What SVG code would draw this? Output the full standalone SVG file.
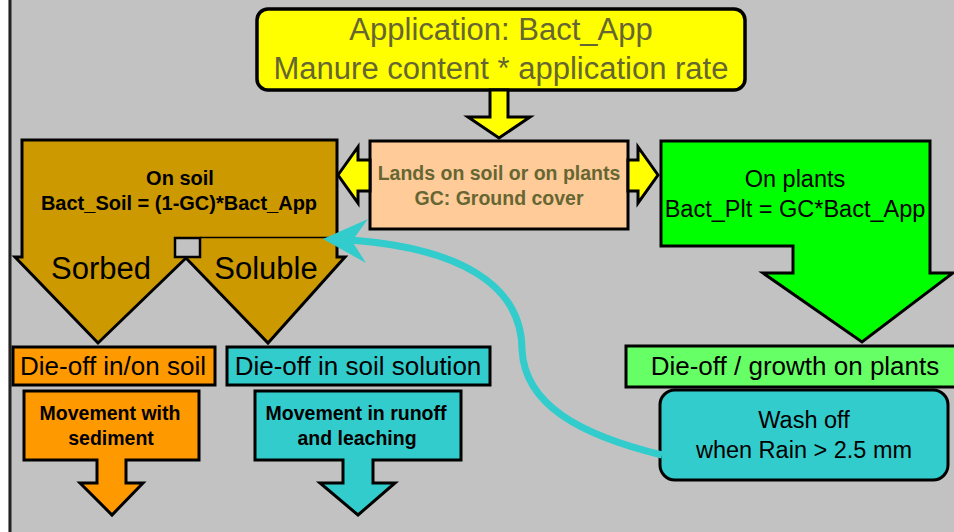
<svg xmlns="http://www.w3.org/2000/svg" width="954" height="532" viewBox="0 0 954 532">
<defs>
<style>
.sh{stroke:#000;stroke-width:3;stroke-linejoin:miter}
.t{font-family:"Liberation Sans",Arial,sans-serif;text-anchor:middle}
.b{font-weight:bold;font-size:19.5px}
.ol{fill:#666633}
.bk{fill:#000}
</style>
</defs>
<rect x="0" y="0" width="954" height="532" fill="#c2c2c2"/>
<rect x="0" y="0" width="8.5" height="532" fill="#ffffff"/>
<line x1="10" y1="0" x2="10" y2="532" stroke="#222" stroke-width="3"/>

<g id="application">
<rect x="257" y="9" width="488" height="81" rx="11" ry="11" fill="#ffff00" stroke="#000" stroke-width="3.5"/>
<text class="t ol" x="501" y="40" font-size="31">Application: Bact_App</text>
<text class="t ol" x="501" y="79" font-size="31">Manure content * application rate</text>
</g>

<g id="lands">
<rect x="370" y="141" width="258" height="88" fill="#ffcc99" class="sh"/>
<text class="t b ol" x="499" y="180">Lands on soil or on plants</text>
<text class="t b ol" x="499" y="205">GC: Ground cover</text>
</g>

<g id="on-soil">
<path d="M22,140 H337 V257 H345 L268,343 L186,258 L98,343 L15,257 H22 Z" fill="#cc9900" class="sh"/>
<rect x="175" y="238" width="25" height="19" fill="#c2c2c2" stroke="#000" stroke-width="2.5"/>
<line x1="200" y1="237.5" x2="330" y2="237.5" stroke="#000" stroke-width="1.3"/>
<text class="t bk" x="180" y="185" font-weight="bold" font-size="20">On soil</text>
<text class="t bk" x="179" y="210" font-weight="bold" font-size="20">Bact_Soil = (1-GC)*Bact_App</text>
<text class="t bk" x="101" y="279" font-size="31">Sorbed</text>
<text class="t bk" x="266" y="279" font-size="31">Soluble</text>
</g>

<g id="on-plants">
<path d="M661,141 H930 V273 H953 L862,342 L763,273 H793 V246 H661 Z" fill="#00ff00" class="sh"/>
<text class="t bk" x="795" y="187" font-size="23.5">On plants</text>
<text class="t bk" x="795" y="217" font-size="23.5">Bact_Plt = GC*Bact_App</text>
</g>

<g id="dieoff-soil">
<rect x="13" y="347" width="202" height="38" fill="#ff9900" class="sh"/>
<text class="t bk" x="113" y="375" font-size="26">Die-off in/on soil</text>
</g>

<g id="dieoff-solution">
<rect x="227" y="347" width="263" height="38" fill="#33cccc" class="sh"/>
<text class="t bk" x="358" y="375" font-size="26">Die-off in soil solution</text>
</g>

<g id="dieoff-plants">
<rect x="626" y="346" width="340" height="41" fill="#66ff66" class="sh"/>
<text class="t bk" x="795" y="375" font-size="26">Die-off / growth on plants</text>
</g>

<g id="movement-sediment">
<path d="M24,391 H199 V460 H126 V483 H143 L112,515 L80,483 H97 V460 H24 Z" fill="#ff9900" class="sh"/>
<text class="t b bk" x="110" y="420">Movement with</text>
<text class="t b bk" x="111" y="445">sediment</text>
</g>

<g id="movement-runoff">
<path d="M255,391 H461 V460 H373 V483 H395 L358,515 L320,483 H343 V460 H255 Z" fill="#33cccc" class="sh"/>
<text class="t b bk" x="356" y="420">Movement in runoff</text>
<text class="t b bk" x="357" y="445">and leaching</text>
</g>

<g id="wash-off">
<rect x="660" y="390" width="288" height="90" rx="15" ry="15" fill="#33cccc" class="sh"/>
<text class="t bk" x="804" y="428" font-size="23.5">Wash off</text>
<text class="t bk" x="804" y="458" font-size="23.5">when Rain &gt; 2.5 mm</text>
</g>

<g id="connectors">
<path d="M490,90 V117 H468 L499,138 L530,117 H508 V90 Z" fill="#ffff00" class="sh"/>
<path d="M338,175 L358,147 V160 H370 V191 H358 V203 Z" fill="#ffff00" class="sh"/>
<path d="M658,175 L638,147 V160 H628 V191 H638 V203 Z" fill="#ffff00" class="sh"/>
<path d="M662,455 C580,435 525,405 522,350 C522,285 460,248 350,240" fill="none" stroke="#33cccc" stroke-width="7"/>
<path d="M323,239 L368,219 L352,241 L366,263 Z" fill="#33cccc"/>
</g>
</svg>
